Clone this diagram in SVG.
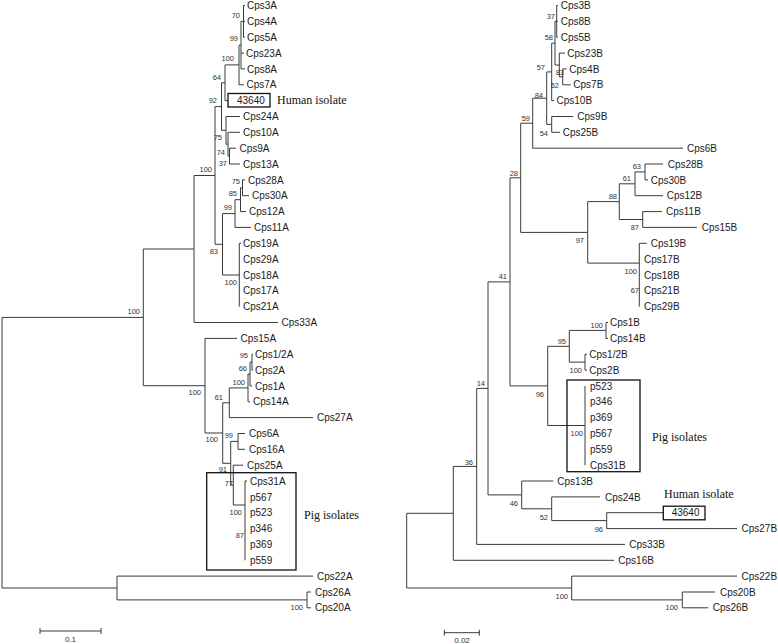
<svg xmlns="http://www.w3.org/2000/svg" width="778" height="644" viewBox="0 0 778 644">
<style>
.br{fill:none;stroke:#3a3a3a;stroke-width:1}
.lf{font-family:"Liberation Sans",Arial,sans-serif;font-size:10px;fill:#1a1a1a}
.bs{font-family:"Liberation Sans",Arial,sans-serif;font-size:7.5px;fill:#333;text-anchor:end}
.hd{font-family:"Liberation Serif","Times New Roman",serif;font-size:12px;fill:#111}
.bx{fill:none;stroke:#111;stroke-width:1.3}
.sc{font-family:"Liberation Sans",Arial,sans-serif;font-size:8px;fill:#333;text-anchor:middle}
</style>
<rect width="778" height="644" fill="#fff"/>
<g id="connectors" class="br">
<path d="M243.5 5.5V37.2M243.5 5.5H245M243.5 21.4H245M243.5 37.2H245"/>
<path d="M241 21.4V68.9M241 21.4H243.5M241 53.1H244M241 68.9H245"/>
<path d="M239 45.1V84.8M239 45.1H241M239 84.8H244"/>
<path d="M225 64.9V100.6M225 64.9H239M225 100.6H228"/>
<path d="M229.5 148.2V164M229.5 148.2H236M229.5 164H240"/>
<path d="M228 132.3V156.1M228 132.3H240M228 156.1H229.5"/>
<path d="M226 116.5V144.2M226 116.5H240M226 144.2H228"/>
<path d="M221.5 82.8V130.3M221.5 82.8H225M221.5 130.3H226"/>
<path d="M242.5 179.9V195.7M242.5 179.9H245M242.5 195.7H249"/>
<path d="M240.5 187.8V211.6M240.5 187.8H242.5M240.5 211.6H246"/>
<path d="M235 199.7V227.4M235 199.7H240.5M235 227.4H251"/>
<path d="M239.3 243.3V306.7M239.3 243.3H241"/>
<path d="M222.5 213.6V275M222.5 213.6H235M222.5 275H239.3"/>
<path d="M215 106.6V244.3M215 106.6H221.5M215 244.3H222.5"/>
<path d="M194 175.5V322.5M194 175.5H215M194 322.5H278"/>
<path d="M252 354.2V370.1M252 354.2H253M252 370.1H253"/>
<path d="M250 362.1V385.9M250 362.1H252M250 385.9H252"/>
<path d="M248 374V401.8M248 374H250M248 401.8H250"/>
<path d="M229.3 387.9V417.6M229.3 387.9H248M229.3 417.6H313"/>
<path d="M238 433.5V449.3M238 433.5H245M238 449.3H245"/>
<path d="M245 481V560.3M245 481H247"/>
<path d="M233.3 465.2V505M233.3 465.2H243M233.3 505H245"/>
<path d="M230.7 441.4V485.1M230.7 441.4H238M230.7 485.1H233.3"/>
<path d="M222.7 402.8V463.3M222.7 402.8H229.3M222.7 463.3H230.7"/>
<path d="M205 338.4V433M205 338.4H237M205 433H222.7"/>
<path d="M143.3 249V385.7M143.3 249H194M143.3 385.7H205"/>
<path d="M307 592V607.8M307 592H311M307 607.8H311"/>
<path d="M117 576.1V599.9M117 576.1H313M117 599.9H307"/>
<path d="M2 317.4V588M2 317.4H143.3M2 588H117"/>
<path d="M556.7 5.5V37.2M556.7 5.5H558M556.7 21.4H558M556.7 37.2H558"/>
<path d="M562.7 68.9V84.8M562.7 68.9H566.7M562.7 84.8H570.7"/>
<path d="M559.3 53.1V76.8M559.3 53.1H565M559.3 76.8H562.7"/>
<path d="M555 21.4V65M555 21.4H556.7M555 65H559.3"/>
<path d="M551.7 43.2V100.6M551.7 43.2H555M551.7 100.6H554"/>
<path d="M551.7 116.5V132.3M551.7 116.5H573.3M551.7 132.3H560"/>
<path d="M546.7 71.9V124.4M546.7 71.9H551.7M546.7 124.4H551.7"/>
<path d="M532.7 98.2V148.2M532.7 98.2H546.7M532.7 148.2H683"/>
<path d="M645 164V179.9M645 164H663M645 179.9H648"/>
<path d="M635 171.9V195.7M635 171.9H645M635 195.7H663"/>
<path d="M642.7 211.6V227.4M642.7 211.6H662M642.7 227.4H697"/>
<path d="M619.3 183.8V219.5M619.3 183.8H635M619.3 219.5H642.7"/>
<path d="M639.3 243.3V306.7M639.3 243.3H646.7"/>
<path d="M587.7 201.6V263.1M587.7 201.6H619.3M587.7 263.1H639.3"/>
<path d="M520.7 123.2V232.4M520.7 123.2H532.7M520.7 232.4H587.7"/>
<path d="M606 322.5V338.4M606 322.5H608M606 338.4H608"/>
<path d="M585 354.2V370.1M585 354.2H587M585 370.1H587"/>
<path d="M569.3 330.4V362.1M569.3 330.4H606M569.3 362.1H585"/>
<path d="M585 385.9V465.2"/>
<path d="M547.7 346.3V425.5M547.7 346.3H569.3M547.7 425.5H585"/>
<path d="M510 177.8V385.9M510 177.8H520.7M510 385.9H547.7"/>
<path d="M606.7 512.7V528.6M606.7 512.7H663.3M606.7 528.6H737"/>
<path d="M551.7 496.9V520.6M551.7 496.9H600M551.7 520.6H606.7"/>
<path d="M521.7 481V508.8M521.7 481H553.3M521.7 508.8H551.7"/>
<path d="M488 281.9V494.9M488 281.9H510M488 494.9H521.7"/>
<path d="M476.7 388.4V544.4M476.7 388.4H488M476.7 544.4H625"/>
<path d="M453.3 466.4V560.3M453.3 466.4H476.7M453.3 560.3H614"/>
<path d="M682.3 592V607.8M682.3 592H715M682.3 607.8H708.3"/>
<path d="M571.7 576.1V599.9M571.7 576.1H737M571.7 599.9H682.3"/>
<path d="M406.7 513.3V588M406.7 513.3H453.3M406.7 588H571.7"/>
<path d="M40 631H101M40 628V634M101 628V634"/>
<path d="M444.3 632.7H479.3M444.3 629.7V635.7M479.3 629.7V635.7"/>
</g>
<g id="bootstrap">
<text class="bs" x="240" y="17.7">70</text>
<text class="bs" x="238" y="40.7">99</text>
<text class="bs" x="234" y="60.7">100</text>
<text class="bs" x="221" y="79.7">64</text>
<text class="bs" x="217" y="102.7">92</text>
<text class="bs" x="222" y="139.7">75</text>
<text class="bs" x="225" y="154.7">74</text>
<text class="bs" x="227" y="165.7">37</text>
<text class="bs" x="212" y="171.7">100</text>
<text class="bs" x="240" y="183.7">75</text>
<text class="bs" x="237" y="195.7">85</text>
<text class="bs" x="232" y="209.7">99</text>
<text class="bs" x="218" y="253.7">83</text>
<text class="bs" x="237" y="284.7">100</text>
<text class="bs" x="140" y="313.7">100</text>
<text class="bs" x="248" y="357.7">95</text>
<text class="bs" x="247" y="370.7">66</text>
<text class="bs" x="245" y="384.7">100</text>
<text class="bs" x="201" y="394.7">100</text>
<text class="bs" x="223" y="399.7">61</text>
<text class="bs" x="233" y="437.7">99</text>
<text class="bs" x="218" y="441.7">100</text>
<text class="bs" x="227" y="471.7">91</text>
<text class="bs" x="233" y="485.7">77</text>
<text class="bs" x="242" y="514.7">100</text>
<text class="bs" x="244" y="537.7">87</text>
<text class="bs" x="303" y="609.7">100</text>
<text class="bs" x="555" y="18.7">37</text>
<text class="bs" x="553" y="39.7">58</text>
<text class="bs" x="545" y="69.7">57</text>
<text class="bs" x="564" y="74.7">83</text>
<text class="bs" x="559" y="87.7">52</text>
<text class="bs" x="543" y="97.7">84</text>
<text class="bs" x="530" y="120.7">59</text>
<text class="bs" x="548" y="135.7">54</text>
<text class="bs" x="641" y="168.7">63</text>
<text class="bs" x="631" y="180.7">61</text>
<text class="bs" x="518" y="175.7">28</text>
<text class="bs" x="617" y="198.7">88</text>
<text class="bs" x="639" y="229.7">87</text>
<text class="bs" x="584" y="242.7">97</text>
<text class="bs" x="637" y="273.7">100</text>
<text class="bs" x="639" y="292.7">67</text>
<text class="bs" x="507" y="278.7">41</text>
<text class="bs" x="603" y="327.7">100</text>
<text class="bs" x="566" y="343.7">95</text>
<text class="bs" x="582" y="372.7">100</text>
<text class="bs" x="485" y="385.7">14</text>
<text class="bs" x="544" y="396.7">96</text>
<text class="bs" x="583" y="435.7">100</text>
<text class="bs" x="473" y="464.7">36</text>
<text class="bs" x="518" y="505.7">46</text>
<text class="bs" x="548" y="519.7">52</text>
<text class="bs" x="603" y="531.7">96</text>
<text class="bs" x="568" y="598.7">100</text>
<text class="bs" x="678" y="609.7">100</text>
</g>
<g id="left-tree-leaves" class="lf">
<g id="L-Cps3A"><text x="247" y="9.1">Cps3A</text></g>
<g id="L-Cps4A"><text x="247" y="25">Cps4A</text></g>
<g id="L-Cps5A"><text x="247" y="40.8">Cps5A</text></g>
<g id="L-Cps23A"><text x="246" y="56.7">Cps23A</text></g>
<g id="L-Cps8A"><text x="247" y="72.5">Cps8A</text></g>
<g id="L-Cps7A"><text x="246.5" y="88.4">Cps7A</text></g>
<g id="L-43640"><rect class="bx" x="228" y="93.5" width="42" height="13.5"/><text x="237" y="104.2">43640</text></g>
<g id="L-Cps24A"><text x="243" y="120.1">Cps24A</text></g>
<g id="L-Cps10A"><text x="243" y="135.9">Cps10A</text></g>
<g id="L-Cps9A"><text x="239.5" y="151.8">Cps9A</text></g>
<g id="L-Cps13A"><text x="243" y="167.6">Cps13A</text></g>
<g id="L-Cps28A"><text x="248" y="183.5">Cps28A</text></g>
<g id="L-Cps30A"><text x="252" y="199.3">Cps30A</text></g>
<g id="L-Cps12A"><text x="249" y="215.2">Cps12A</text></g>
<g id="L-Cps11A"><text x="254" y="231">Cps11A</text></g>
<g id="L-Cps19A"><text x="243" y="246.9">Cps19A</text></g>
<g id="L-Cps29A"><text x="243" y="262.7">Cps29A</text></g>
<g id="L-Cps18A"><text x="243" y="278.6">Cps18A</text></g>
<g id="L-Cps17A"><text x="243" y="294.4">Cps17A</text></g>
<g id="L-Cps21A"><text x="243" y="310.3">Cps21A</text></g>
<g id="L-Cps33A"><text x="281.5" y="326.1">Cps33A</text></g>
<g id="L-Cps15A"><text x="240.5" y="342">Cps15A</text></g>
<g id="L-Cps1-2A"><text x="255" y="357.8">Cps1/2A</text></g>
<g id="L-Cps2A"><text x="255" y="373.7">Cps2A</text></g>
<g id="L-Cps1A"><text x="255" y="389.5">Cps1A</text></g>
<g id="L-Cps14A"><text x="253" y="405.4">Cps14A</text></g>
<g id="L-Cps27A"><text x="317" y="421.2">Cps27A</text></g>
<g id="L-Cps6A"><text x="249" y="437.1">Cps6A</text></g>
<g id="L-Cps16A"><text x="249" y="452.9">Cps16A</text></g>
<g id="L-Cps25A"><text x="247" y="468.8">Cps25A</text></g>
<g id="L-Cps31A"><text x="250" y="484.6">Cps31A</text></g>
<g id="L-p567"><text x="250" y="500.5">p567</text></g>
<g id="L-p523"><text x="250" y="516.3">p523</text></g>
<g id="L-p346"><text x="250" y="532.2">p346</text></g>
<g id="L-p369"><text x="250" y="548">p369</text></g>
<g id="L-p559"><text x="250" y="563.9">p559</text></g>
<g id="L-Cps22A"><text x="317" y="579.7">Cps22A</text></g>
<g id="L-Cps26A"><text x="315" y="595.6">Cps26A</text></g>
<g id="L-Cps20A"><text x="315" y="611.4">Cps20A</text></g>
</g>
<g id="right-tree-leaves" class="lf">
<g id="R-Cps3B"><text x="560.7" y="9.1">Cps3B</text></g>
<g id="R-Cps8B"><text x="560.7" y="25">Cps8B</text></g>
<g id="R-Cps5B"><text x="560.7" y="40.8">Cps5B</text></g>
<g id="R-Cps23B"><text x="567.3" y="56.7">Cps23B</text></g>
<g id="R-Cps4B"><text x="569.3" y="72.5">Cps4B</text></g>
<g id="R-Cps7B"><text x="573.3" y="88.4">Cps7B</text></g>
<g id="R-Cps10B"><text x="556.5" y="104.2">Cps10B</text></g>
<g id="R-Cps9B"><text x="577.3" y="120.1">Cps9B</text></g>
<g id="R-Cps25B"><text x="562.7" y="135.9">Cps25B</text></g>
<g id="R-Cps6B"><text x="687" y="151.8">Cps6B</text></g>
<g id="R-Cps28B"><text x="667.7" y="167.6">Cps28B</text></g>
<g id="R-Cps30B"><text x="650.7" y="183.5">Cps30B</text></g>
<g id="R-Cps12B"><text x="666.7" y="199.3">Cps12B</text></g>
<g id="R-Cps11B"><text x="666" y="215.2">Cps11B</text></g>
<g id="R-Cps15B"><text x="701.7" y="231">Cps15B</text></g>
<g id="R-Cps19B"><text x="650.7" y="246.9">Cps19B</text></g>
<g id="R-Cps17B"><text x="644" y="262.7">Cps17B</text></g>
<g id="R-Cps18B"><text x="644" y="278.6">Cps18B</text></g>
<g id="R-Cps21B"><text x="644" y="294.4">Cps21B</text></g>
<g id="R-Cps29B"><text x="644" y="310.3">Cps29B</text></g>
<g id="R-Cps1B"><text x="610" y="326.1">Cps1B</text></g>
<g id="R-Cps14B"><text x="610" y="342">Cps14B</text></g>
<g id="R-Cps1-2B"><text x="589.3" y="357.8">Cps1/2B</text></g>
<g id="R-Cps2B"><text x="589.3" y="373.7">Cps2B</text></g>
<g id="R-p523"><text x="590" y="389.5">p523</text></g>
<g id="R-p346"><text x="590" y="405.4">p346</text></g>
<g id="R-p369"><text x="590" y="421.2">p369</text></g>
<g id="R-p567"><text x="590" y="437.1">p567</text></g>
<g id="R-p559"><text x="590" y="452.9">p559</text></g>
<g id="R-Cps31B"><text x="590" y="468.8">Cps31B</text></g>
<g id="R-Cps13B"><text x="557.3" y="484.6">Cps13B</text></g>
<g id="R-Cps24B"><text x="605" y="500.5">Cps24B</text></g>
<g id="R-43640"><rect class="bx" x="663.3" y="506.2" width="41.7" height="13.6"/><text x="671.7" y="516.3">43640</text></g>
<g id="R-Cps27B"><text x="741.5" y="532.2">Cps27B</text></g>
<g id="R-Cps33B"><text x="629.3" y="548">Cps33B</text></g>
<g id="R-Cps16B"><text x="618.3" y="563.9">Cps16B</text></g>
<g id="R-Cps22B"><text x="741.5" y="579.7">Cps22B</text></g>
<g id="R-Cps20B"><text x="720" y="595.6">Cps20B</text></g>
<g id="R-Cps26B"><text x="712.7" y="611.4">Cps26B</text></g>
</g>
<g id="pig-box-left"><rect class="bx" x="206.7" y="472.7" width="89.3" height="97.3"/><text class="hd" x="304" y="519">Pig isolates</text></g>
<g id="pig-box-right"><rect class="bx" x="567" y="380" width="73" height="91.7"/><text class="hd" x="652" y="441">Pig isolates</text></g>
<g id="human-left"><text class="hd" x="277" y="104">Human isolate</text></g>
<g id="human-right"><text class="hd" x="664" y="498">Human isolate</text></g>
<g id="scale-left"><text class="sc" x="70.5" y="642">0.1</text></g>
<g id="scale-right"><text class="sc" x="462" y="643">0.02</text></g>
</svg>
